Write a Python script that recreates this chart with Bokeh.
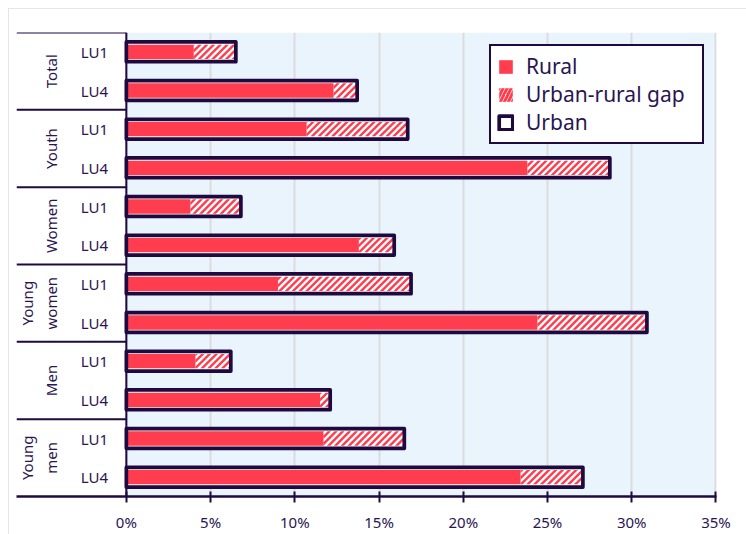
import math
from bokeh.plotting import figure
from bokeh.models import (Range1d, FixedTicker, Span, BoxAnnotation, ColumnDataSource,
                          Legend, LegendItem, PrintfTickFormatter)
from bokeh.core.properties import value
from bokeh.embed import file_html
from bokeh.resources import INLINE

# ---- data (top to bottom) ----
groups = ["Total", "Youth", "Women", "Young\nwomen", "Men", "Young\nmen"]
levels = ["LU1", "LU4"]
rural = [4.0, 12.3, 10.7, 23.8, 3.8, 13.8, 9.0, 24.4, 4.1, 11.5, 11.7, 23.4]
urban = [6.5, 13.7, 16.7, 28.7, 6.8, 15.9, 16.9, 30.9, 6.2, 12.1, 16.5, 27.1]
x_ticks = [0, 5, 10, 15, 20, 25, 30, 35]

RED = "#ff3d4e"
DARK = "#1f0a40"
TEXT = "#2a1552"
BLUE = "#eaf4fd"
GRID = "#dcdcdc"
FONT = "Noto Sans"

n = len(rural)
rows = [n - i - 0.5 for i in range(n)]
lu_labels = [levels[i % len(levels)] for i in range(n)]
k = len(levels)
group_centers = [n - g * k - k / 2 for g in range(len(groups))]
boundaries = [n - g * k for g in range(len(groups))]

src = ColumnDataSource(dict(y=rows, rural=rural, urban=urban, lu=lu_labels))

W, H = 738, 526
BL, BR, BT, BB = 8, 30, 24, 37
x_start, x_end = -6.52, x_ticks[-1] + 0.03
p = figure(width=W, height=H, output_backend="svg", toolbar_location=None,
           x_range=Range1d(x_start, x_end), y_range=Range1d(0, n),
           min_border_left=BL, min_border_right=BR, min_border_top=BT, min_border_bottom=BB)
p.styles = {"margin": "8px", "outline": "2px solid #dedede", "outline-offset": "-2px"}
p.outline_line_color = None
p.background_fill_color = "white"
p.border_fill_color = "white"

p.add_layout(BoxAnnotation(left=0, fill_color=BLUE, fill_alpha=1, line_color=None, level="image"))

p.yaxis.visible = False
p.ygrid.grid_line_color = None
p.xgrid.grid_line_color = GRID
p.xgrid.grid_line_width = 2

ax = p.xaxis[0]
ax.ticker = FixedTicker(ticks=x_ticks)
ax.formatter = PrintfTickFormatter(format="%d%%")
ax.axis_line_color = DARK
ax.axis_line_width = 2.5
ax.major_tick_line_color = DARK
ax.major_tick_line_width = 2
ax.major_tick_in = 5
ax.major_tick_out = 6
ax.minor_tick_line_color = None
ax.major_label_standoff = 9
ax.major_label_text_font = FONT
ax.major_label_text_font_size = "15px"
ax.major_label_text_color = TEXT

p.add_layout(Span(location=0, dimension="height", line_color=DARK, line_width=2))

# separators in the label area
p.segment(x0=x_start, x1=0, y0=boundaries, y1=boundaries, line_color=DARK, line_width=2)

# ---- hatch stripes for the urban-rural gap, computed in screen pixels ----
sx = (W - BL - BR) / (x_end - x_start)
sy = (H - BT - BB) / n
BAR_H = 0.37
PERIOD, STRIPE = 6.8, 3.4


def clip(poly, f):
    out = []
    for j in range(len(poly)):
        a, b = poly[j], poly[(j + 1) % len(poly)]
        fa, fb = f(a), f(b)
        if fa >= 0:
            out.append(a)
        if (fa >= 0) != (fb >= 0):
            t = fa / (fa - fb)
            out.append((a[0] + t * (b[0] - a[0]), a[1] + t * (b[1] - a[1])))
    return out


hx, hy = [], []
for r0, u0, yc in zip(rural, urban, rows):
    x0, x1 = r0 * sx, u0 * sx
    y0, y1 = (yc - BAR_H / 2) * sy, (yc + BAR_H / 2) * sy
    rect = [(x0, y0), (x1, y0), (x1, y1), (x0, y1)]
    c = math.floor((x0 - y1) / PERIOD) * PERIOD
    while c < x1 - y0:
        poly = clip(rect, lambda q, c=c: (q[0] - q[1]) - c)
        poly = clip(poly, lambda q, c=c: c + STRIPE - (q[0] - q[1])) if poly else []
        if len(poly) >= 3:
            hx.append([q[0] / sx for q in poly])
            hy.append([q[1] / sy for q in poly])
        c += PERIOD

# bars
p.hbar(y="y", left=0, right="urban", height=0.51, source=src, fill_color="white", line_color=None)
r_rural = p.hbar(y="y", left=0, right="rural", height=BAR_H, source=src, fill_color=RED, line_color=None)
p.patches(hx, hy, fill_color=RED, line_color=None)
# legend swatch for the gap (zero-width bar, only its hatch style is used in the legend)
r_gap = p.hbar(y=[rows[0]], left=[rural[0]], right=[rural[0]], height=BAR_H, fill_color="white",
               line_color=None, hatch_pattern="/", hatch_color=RED, hatch_scale=8, hatch_weight=3)
r_urban = p.hbar(y="y", left=0, right="urban", height=0.51, source=src, fill_alpha=0,
                 line_color=DARK, line_width=3.7, line_join="round")

# labels
p.text(x=0, y="y", text="lu", source=src, x_offset=-32, text_align="center", text_baseline="middle",
       text_font=value(FONT), text_font_size="15px", text_color=TEXT)
p.text(x=0, y=group_centers, text=groups, angle=math.pi / 2, x_offset=-65,
       text_align="center", text_baseline="bottom", text_line_height=1.2,
       text_font=value(FONT), text_font_size="15px", text_color=TEXT)

legend = Legend(items=[LegendItem(label="Rural", renderers=[r_rural]),
                       LegendItem(label="Urban-rural gap", renderers=[r_gap]),
                       LegendItem(label="Urban", renderers=[r_urban])],
                location="top_right", margin=12, padding=6, spacing=0,
                glyph_width=17, glyph_height=17, label_height=20, label_standoff=12,
                label_width=170, label_text_line_height=1.0,
                label_text_font=FONT, label_text_font_size="21px", label_text_color=TEXT,
                border_line_color=DARK, border_line_width=2, border_line_alpha=1,
                background_fill_color="white", background_fill_alpha=1)
p.add_layout(legend)

open("out.html", "w").write(file_html(p, INLINE))
